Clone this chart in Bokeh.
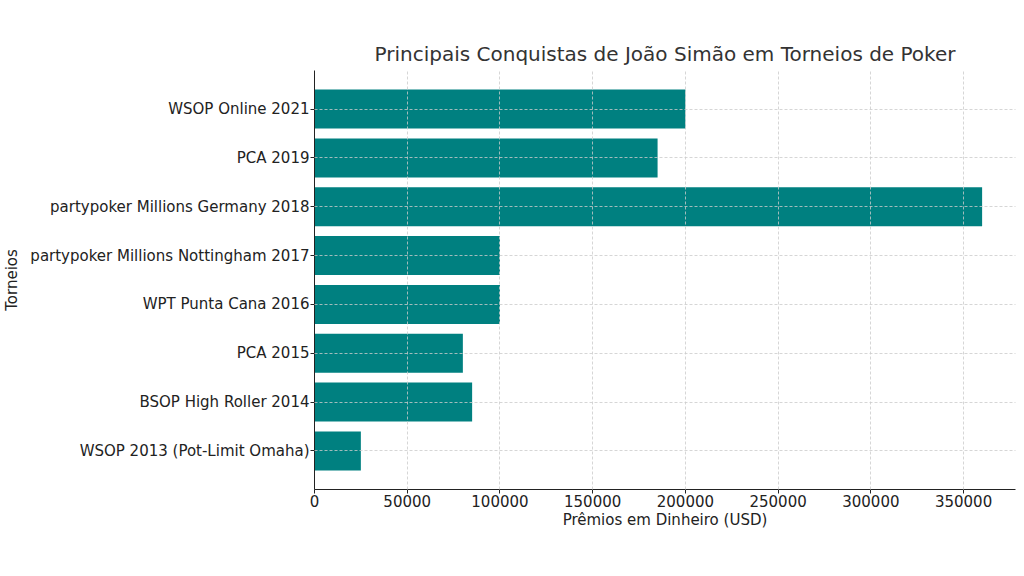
from bokeh.plotting import figure
from bokeh.models import Range1d, FixedTicker, NumeralTickFormatter
from bokeh.embed import file_html
from bokeh.resources import INLINE

tournaments = [
    "WSOP 2013 (Pot-Limit Omaha)",
    "BSOP High Roller 2014",
    "PCA 2015",
    "WPT Punta Cana 2016",
    "partypoker Millions Nottingham 2017",
    "partypoker Millions Germany 2018",
    "PCA 2019",
    "WSOP Online 2021",
]
prizes = [25000, 85000, 80000, 100000, 100000, 360000, 185000, 200000]
x_ticks = [0, 50000, 100000, 150000, 200000, 250000, 300000, 350000]

positions = list(range(len(tournaments)))
FONT = "DejaVu Sans"

p = figure(width=1020, height=570, output_backend="svg", toolbar_location=None,
           x_range=Range1d(0, max(prizes) * 1.05),
           y_range=Range1d(-0.79, len(tournaments) - 1 + 0.79),
           min_border_left=314, min_border_right=5, min_border_top=70, min_border_bottom=81)

p.hbar(y=positions, right=prizes, left=0, height=0.8, color="#008080", line_color=None)

p.title.text = "Principais Conquistas de João Simão em Torneios de Poker"
p.title.align = "center"
p.title.text_font = FONT
p.title.text_font_size = "20px"
p.title.text_font_style = "normal"
p.title.text_color = "#333333"
p.title.offset = -3

p.outline_line_color = None

p.xaxis.ticker = FixedTicker(ticks=x_ticks)
p.xaxis.formatter = NumeralTickFormatter(format="0")
p.yaxis.ticker = FixedTicker(ticks=positions)
p.yaxis.major_label_overrides = {i: t for i, t in enumerate(tournaments)}

for ax in (p.xaxis, p.yaxis):
    ax.major_label_text_font = FONT
    ax.major_label_text_font_size = "15px"
    ax.major_label_text_color = "#222222"
    ax.axis_label_text_font = FONT
    ax.axis_label_text_font_size = "15px"
    ax.axis_label_text_font_style = "normal"
    ax.axis_label_text_color = "#222222"
    ax.axis_line_color = "#222222"
    ax.major_tick_line_color = "#222222"
    ax.major_tick_out = 4
    ax.major_tick_in = 0
    ax.minor_tick_line_color = None
    ax.major_label_standoff = 1

p.xaxis.axis_label = "Prêmios em Dinheiro (USD)"
p.yaxis.axis_label = "Torneios"
p.xaxis.axis_label_standoff = 1
p.yaxis.axis_label_standoff = 6

for g in (p.xgrid, p.ygrid):
    g.grid_line_color = "#cccccc"
    g.grid_line_dash = "3 2"
    g.grid_line_width = 0.8
    g.level = "overlay"
p.xgrid.ticker = FixedTicker(ticks=x_ticks)
p.ygrid.ticker = FixedTicker(ticks=positions)

open("out.html", "w").write(file_html(p, INLINE))
